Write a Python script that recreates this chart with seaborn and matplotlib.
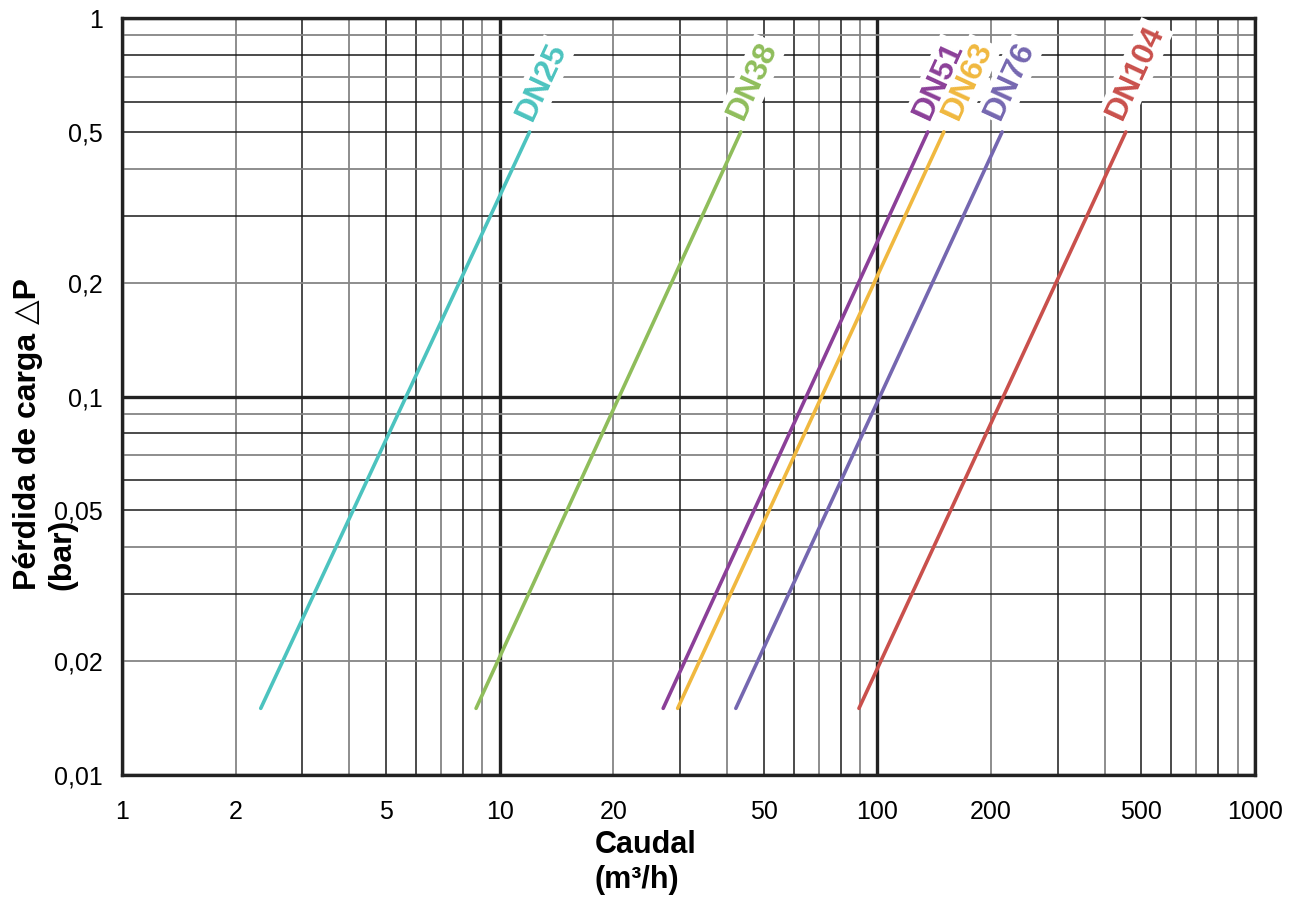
import numpy as np
import pandas as pd
import matplotlib
matplotlib.use("Agg")
import matplotlib.pyplot as plt
import seaborn as sns

# ---- data: each curve runs from DP_START to DP_END ----
DN_NAMES = ["DN25", "DN38", "DN51", "DN63", "DN76", "DN104"]
Q_START = [2.33, 8.66, 27.1, 29.6, 42.2, 89.4]      # m3/h at 0.015 bar
Q_END = [12.0, 43.5, 136.0, 150.0, 214.0, 455.0]    # m3/h at 0.5 bar
DP_START = 0.015
DP_END = 0.5
DN_COLORS = ["#4cc3bf", "#8fbd5b", "#8b3f98", "#f0b83f", "#7567b0", "#c9504c"]

X_LABELS = {1: "1", 2: "2", 5: "5", 10: "10", 20: "20", 50: "50",
            100: "100", 200: "200", 500: "500", 1000: "1000"}
Y_LABELS = {0.01: "0,01", 0.02: "0,02", 0.05: "0,05", 0.1: "0,1",
            0.2: "0,2", 0.5: "0,5", 1: "1"}

# where each label starts, in pixels right/up from the top end of its curve
LABEL_SHIFT = [(2, 10), (2, 11), (1, 11), (14, 11), (-2, 11), (-4, 11)]

sns.set_style("white")
plt.rcParams["font.family"] = ["Liberation Sans", "DejaVu Sans"]
plt.rcParams["text.color"] = "black"

rows = []
for name, q0, q1 in zip(DN_NAMES, Q_START, Q_END):
    rows.append({"dn": name, "caudal": q0, "dp": DP_START})
    rows.append({"dn": name, "caudal": q1, "dp": DP_END})
df = pd.DataFrame(rows)

fig = plt.figure(figsize=(12.97, 8.99), dpi=100)
ax = fig.add_axes([122 / 1297, 1 - 775 / 899, (1255 - 122) / 1297, (775 - 18) / 899])

sns.lineplot(data=df, x="caudal", y="dp", hue="dn", hue_order=DN_NAMES,
             palette=DN_COLORS, legend=False, linewidth=2.6, ax=ax, zorder=3)

ax.set_xscale("log")
ax.set_yscale("log")
ax.set_xlim(1, 1000)
ax.set_ylim(0.01, 1)


def grid_ticks(lo_exp, hi_exp):
    vals, mants = [], []
    for e in range(lo_exp, hi_exp):
        for m in range(1, 10):
            vals.append(m * 10.0 ** e)
            mants.append(m)
    vals.append(10.0 ** hi_exp)
    mants.append(1)
    return vals, mants


def style_for(m):
    if m == 1:
        return "#222222", 2.4
    if m in (2, 4, 7, 9):
        return "#858585", 1.3
    return "#1a1a1a", 1.1


x_vals, x_mants = grid_ticks(0, 3)
y_vals, y_mants = grid_ticks(-2, 0)

ax.xaxis.set_minor_locator(matplotlib.ticker.NullLocator())
ax.yaxis.set_minor_locator(matplotlib.ticker.NullLocator())
ax.set_xticks(x_vals)
ax.set_yticks(y_vals)
ax.set_xticklabels([X_LABELS.get(round(v), "") if m in (1, 2, 5) else "" for v, m in zip(x_vals, x_mants)])
ax.set_yticklabels([Y_LABELS.get(round(v, 3), "") if m in (1, 2, 5) else "" for v, m in zip(y_vals, y_mants)])
ax.tick_params(axis="both", which="major", direction="out", length=8, pad=6,
               labelsize=18, labelcolor="black")
ax.tick_params(axis="x", pad=10)

ax.grid(True, which="major")
ax.set_axisbelow(True)
for axis, mants in ((ax.xaxis, x_mants), (ax.yaxis, y_mants)):
    for tick, m in zip(axis.get_major_ticks(), mants):
        c, lw = style_for(m)
        tick.gridline.set_color(c)
        tick.gridline.set_linewidth(lw)
        tick.gridline.set_alpha(1)
        tick.tick1line.set_color(c)
        tick.tick1line.set_markeredgewidth(lw)

for side in ["top", "bottom", "left", "right"]:
    ax.spines[side].set_visible(True)
    ax.spines[side].set_color("#222222")
    ax.spines[side].set_linewidth(2.4)

ax.set_xlabel("")
ax.set_ylabel("")

# rotated labels at the top of each curve: white boxes first, then the text
px = 72.0 / fig.dpi
for layer in ("box", "text"):
    for name, q0, q1, c, (sx, sy) in zip(DN_NAMES, Q_START, Q_END, DN_COLORS, LABEL_SHIFT):
        p0 = ax.transData.transform((q0, DP_START))
        p1 = ax.transData.transform((q1, DP_END))
        ang = np.degrees(np.arctan2(p1[1] - p0[1], p1[0] - p0[0]))
        kw = dict(xy=(q1, DP_END), xytext=(sx * px, sy * px), textcoords="offset points",
                  rotation=ang, rotation_mode="anchor",
                  ha="left", va="baseline", fontsize=23, fontweight="bold")
        if layer == "box":
            ax.annotate(name, color="white",
                        bbox=dict(facecolor="white", edgecolor="none", pad=2),
                        zorder=4, **kw)
        else:
            ax.annotate(name, color=c, zorder=5, **kw)

fig.text(13 / 1297, 1 - 590 / 899, "Pérdida de carga \u25b3P\n(bar)", rotation=90,
         ha="left", va="bottom", multialignment="left", fontsize=23, fontweight="bold")
fig.text(595 / 1297, 1 - 895 / 899, "Caudal\n(m³/h)", ha="left", va="bottom",
         multialignment="left", fontsize=22, fontweight="bold")

fig.savefig("out.png", dpi=100)
